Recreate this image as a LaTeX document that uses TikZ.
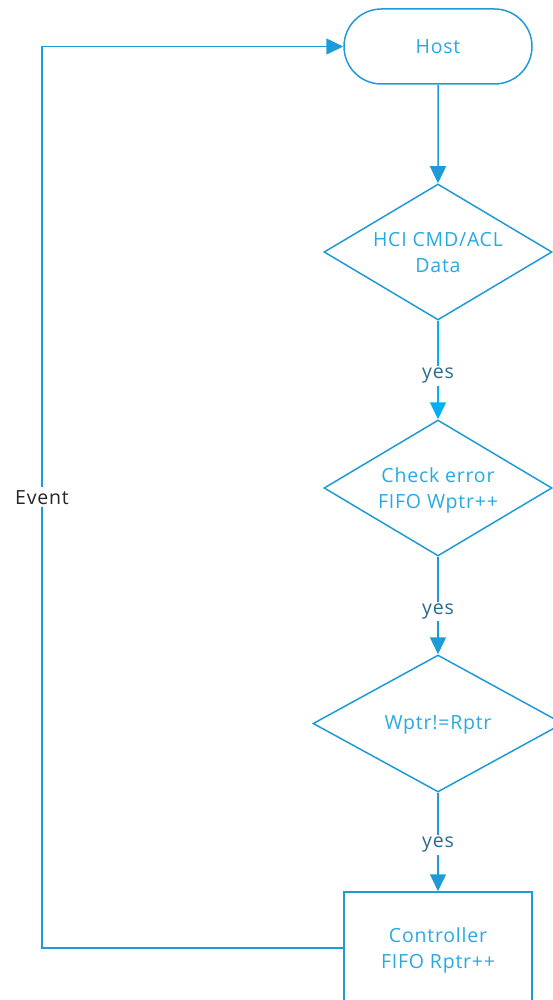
\documentclass[tikz,border=0pt]{standalone}
\usepackage{fontspec}
\setmainfont{Open Sans}[LetterSpace=4]
\usetikzlibrary{shapes.geometric,shapes.misc,arrows.meta}
\definecolor{flowline}{RGB}{30,155,215}
\definecolor{flowtext}{RGB}{41,169,225}
\definecolor{yescyan}{RGB}{0,176,240}
\definecolor{yestext}{RGB}{45,105,140}
\tikzset{
  every node/.style={font=\fontsize{19.5}{26}\selectfont},
  flow/.style={draw=flowline, line width=1.5pt},
  terminal/.style={flow, rounded rectangle, minimum width=188pt, minimum height=75pt, text=flowtext, inner sep=0pt},
  decision/.style={flow, diamond, inner sep=0pt},
  inside/.style={text=flowtext, align=center, inner sep=0pt, yshift=-1pt},
  process/.style={flow, rectangle, minimum width=188pt, minimum height=116pt, text=flowtext, align=center},
  link/.style={flow, -{Triangle[length=17pt,width=16pt]}},
  yeslabel/.style={fill=white, text=yestext, inner sep=2pt, pos=0.56},
}
\begin{document}
\begin{tikzpicture}[x=1pt,y=-1pt]
\useasboundingbox (0,0) rectangle (553,1000);
\clip (0,0) rectangle (553,1000);
\node[terminal] (host) at (438,46.5) {Host};
\node[decision, minimum width=228pt, minimum height=136pt,
      label={[inside]center:HCI CMD/ACL\\Data}] (hci) at (438,252) {};
\node[decision, minimum width=228pt, minimum height=136pt,
      label={[inside, yshift=-1pt]center:Check error\\FIFO Wptr++}] (chk) at (438,488) {};
\node[decision, minimum width=250pt, minimum height=137pt,
      label={[inside]center:Wptr!=Rptr}] (cmp) at (438,723.5) {};
\node[process] (ctl) at (438,950) {Controller\\FIFO Rptr++};
\coordinate (bl) at (42,948);
\coordinate (tl) at (42,46.5);

\draw[link] (host) -- (hci);
\draw[link, draw=yescyan, -{Triangle[length=17pt,width=16pt,fill=yescyan]}] (hci) -- node[yeslabel] {yes} (chk);
\draw[link] (chk) -- node[yeslabel] {yes} (cmp);
\draw[link] (cmp) -- node[yeslabel, pos=0.53] {yes} (ctl);
\draw[link] (ctl.west |- bl) -- (bl) -- node[fill=white, text=black!85, pos=0.5, inner sep=3pt] {Event} (tl) -- (host.west);
\end{tikzpicture}
\end{document}
